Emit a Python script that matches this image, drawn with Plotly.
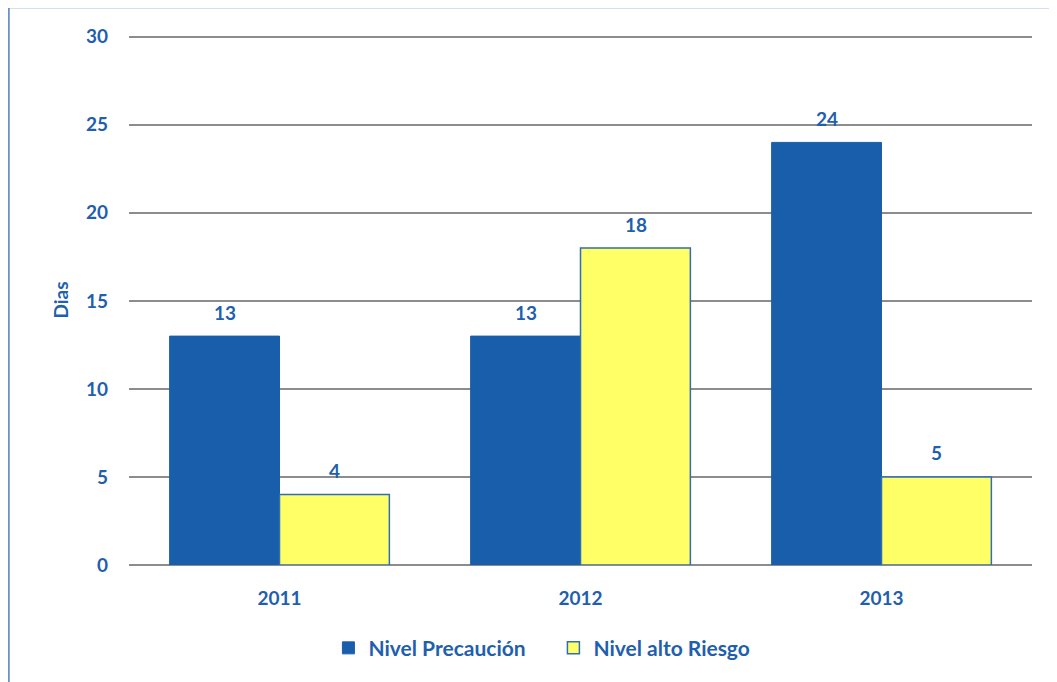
import plotly.graph_objects as go

# data
years = ['2011', '2012', '2013']
precaucion = [13, 13, 24]
alto_riesgo = [4, 18, 5]

blue_txt = '#1F5FAD'
font_fam = 'Lato'
bold = dict(family=font_fam, color=blue_txt, weight='bold')

fig = go.Figure()
fig.add_trace(go.Bar(x=years, y=precaucion, name='Nivel Precaución',
                     marker=dict(color='#195EAA', line=dict(color='#195EAA', width=1))))
fig.add_trace(go.Bar(x=years, y=alto_riesgo, name='Nivel alto Riesgo',
                     marker=dict(color='#FFFF66', line=dict(color='#2E6DB8', width=1.5))))

# value labels above the bars (x as category index)
for i, (a, b) in enumerate(zip(precaucion, alto_riesgo)):
    for val, shift in ((a, -55), (b, 55)):
        fig.add_annotation(x=i, y=val, xref='x', yref='y', text=str(val), showarrow=False,
                           xshift=shift, yshift=24, font=dict(size=19, **bold))

# thin blue frame along the left and top edges
frame = dict(color='#4F7FBF', width=1.5)
fig.add_shape(type='line', xref='paper', yref='paper', x0=-0.133, x1=1.05, y0=1.052, y1=1.052, line=frame)
fig.add_shape(type='line', xref='paper', yref='paper', x0=-0.133, x1=-0.133, y0=-0.3, y1=1.052, line=frame)

fig.update_layout(
    width=1049, height=674,
    margin=dict(l=121, r=25, t=27, b=117),
    plot_bgcolor='white', paper_bgcolor='white',
    barmode='group', bargap=0.27, bargroupgap=0,
    font=dict(family=font_fam, color=blue_txt),
    legend=dict(orientation='h', x=0.47, xanchor='center', y=-0.157, yanchor='middle',
                font=dict(size=21, **bold), entrywidthmode='pixels', entrywidth=180),
    xaxis=dict(type='category', showgrid=False, ticks='', ticklabelstandoff=20,
               tickfont=dict(size=19, **bold)),
    yaxis=dict(range=[0, 30.1], dtick=5, gridcolor='#8C8C8C', gridwidth=2,
               zerolinecolor='#8C8C8C', zerolinewidth=2, ticklabelstandoff=20,
               tickfont=dict(size=19, **bold),
               title=dict(text='Dias', font=dict(size=19, **bold), standoff=12)),
)

fig.write_html('out.html')
